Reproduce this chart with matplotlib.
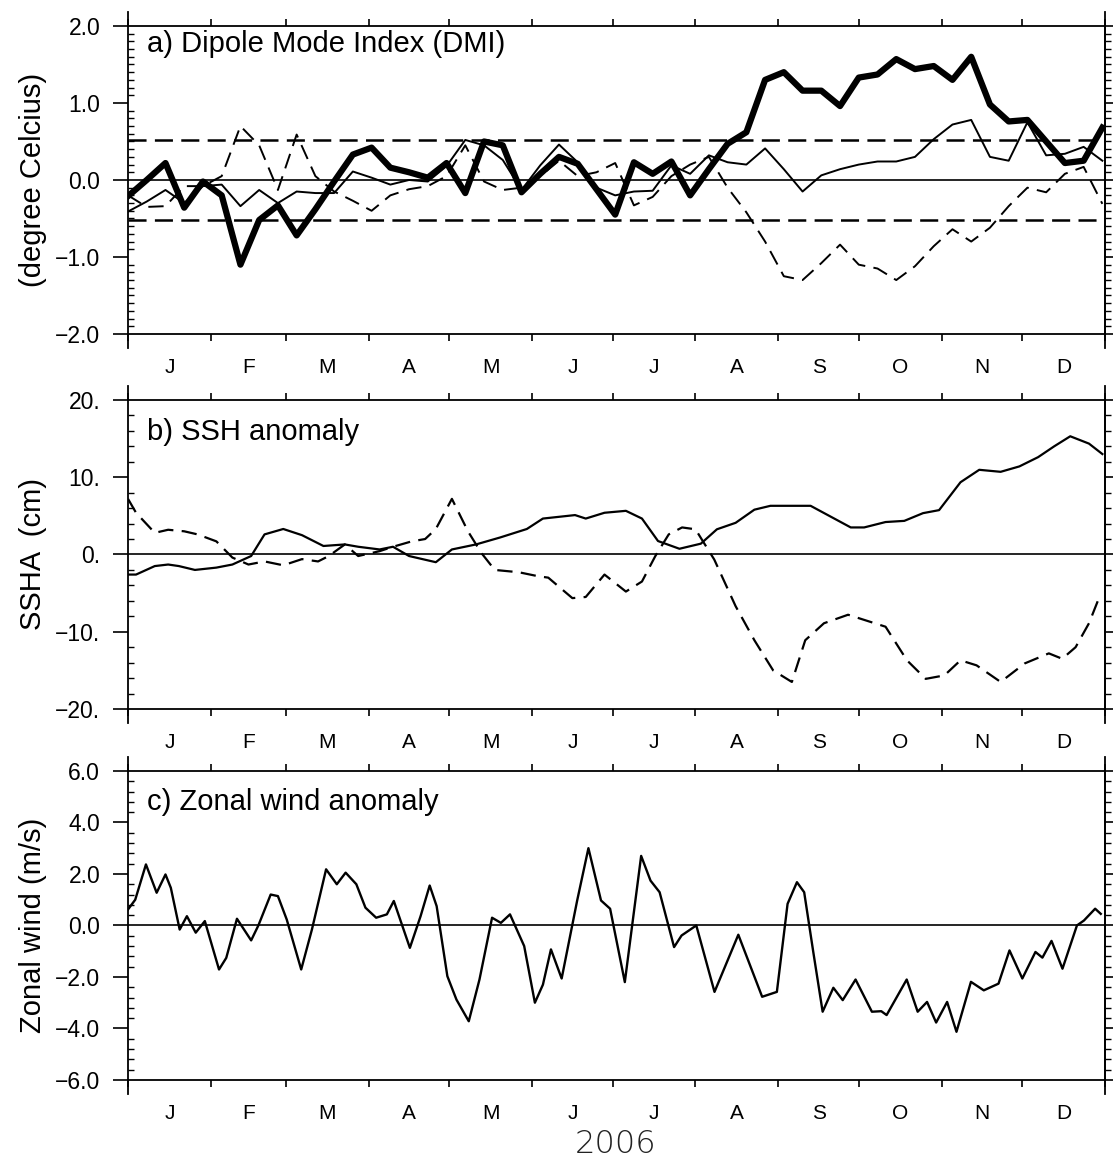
import matplotlib
matplotlib.use('Agg')
import matplotlib.pyplot as plt
import matplotlib.ticker as mticker
import numpy as np

plt.rcParams['font.family'] = ['Liberation Sans', 'DejaVu Sans']
plt.rcParams['lines.scale_dashes'] = False

# calendar of 2006 (day of year)
month_start = [0, 31, 59, 90, 120, 151, 181, 212, 243, 273, 304, 334, 365]
month_labels = ['J', 'F', 'M', 'A', 'M', 'J', 'J', 'A', 'S', 'O', 'N', 'D']

# a) Dipole Mode Index, weekly values
dmi_week = list(range(53))
dmi_thick = [-0.21, 0.0, 0.22, -0.36, -0.02, -0.2, -1.1, -0.52, -0.33, -0.72,
             -0.38, -0.02, 0.33, 0.42, 0.16, 0.1, 0.03, 0.22, -0.17, 0.5,
             0.45, -0.16, 0.08, 0.3, 0.21, -0.12, -0.45, 0.23, 0.08, 0.24,
             -0.2, 0.14, 0.47, 0.62, 1.3, 1.4, 1.16, 1.16, 0.96, 1.33,
             1.37, 1.57, 1.44, 1.48, 1.3, 1.6, 0.98, 0.76, 0.78, 0.5,
             0.22, 0.25, 0.68]
dmi_thin = [-0.41, -0.28, -0.13, -0.3, -0.08, -0.06, -0.34, -0.13, -0.3, -0.15,
            -0.17, -0.17, 0.11, 0.03, -0.06, 0.0, -0.02, 0.18, 0.52, 0.45,
            0.26, -0.13, 0.19, 0.46, 0.23, -0.1, -0.2, -0.15, -0.14, 0.19,
            0.08, 0.32, 0.23, 0.2, 0.41, 0.14, -0.15, 0.06, 0.14, 0.2,
            0.24, 0.24, 0.3, 0.53, 0.72, 0.78, 0.3, 0.25, 0.75, 0.32,
            0.34, 0.43, 0.25]
dmi_dash = [-0.2, -0.35, -0.34, -0.08, -0.08, 0.05, 0.7, 0.45, -0.13, 0.59,
            0.05, -0.15, -0.27, -0.4, -0.2, -0.12, -0.08, 0.05, 0.45, -0.02,
            -0.13, -0.1, 0.05, 0.25, 0.05, 0.1, 0.22, -0.33, -0.22, 0.05,
            0.2, 0.3, -0.1, -0.42, -0.8, -1.25, -1.3, -1.08, -0.84, -1.1,
            -1.15, -1.3, -1.12, -0.86, -0.64, -0.8, -0.62, -0.34, -0.1, -0.16,
            0.08, 0.17, -0.31]
dmi_threshold = 0.52

# b) SSH anomaly (cm)
ssh_solid_day = [0, 3, 10, 15, 19, 25, 33, 39, 46, 51, 58, 65, 73, 81, 86, 94,
                 99, 105, 115, 121, 130, 139, 149, 155, 167, 171, 178, 186, 192,
                 198, 206, 214, 220, 227, 234, 240, 255, 270, 275, 283, 290, 297,
                 303, 311, 318, 326, 333, 340, 346, 352, 359, 364]
ssh_solid = [-2.6, -2.6, -1.5, -1.3, -1.5, -2.0, -1.7, -1.3, -0.2, 2.6, 3.3, 2.5,
             1.1, 1.3, 1.0, 0.65, 1.0, -0.2, -1.0, 0.65, 1.3, 2.2, 3.3, 4.65,
             5.1, 4.65, 5.4, 5.65, 4.65, 1.74, 0.74, 1.4, 3.26, 4.1, 5.8, 6.3,
             6.3, 3.5, 3.5, 4.2, 4.35, 5.35, 5.74, 9.35, 10.96, 10.7, 11.4, 12.6,
             14.0, 15.3, 14.35, 13.0]
ssh_dash_day = [0, 3, 10, 15, 21, 26, 33, 39, 45, 51, 58, 65, 71, 75, 81, 86, 94,
                99, 106, 111, 115, 121, 127, 132, 137, 146, 153, 157, 166, 171,
                178, 186, 192, 197, 202, 207, 212, 219, 227, 234, 241, 248, 253,
                260, 269, 283, 291, 298, 305, 311, 317, 326, 335, 344, 349, 354,
                359, 363]
ssh_dash = [7.2, 5.4, 2.8, 3.2, 3.0, 2.6, 1.7, -0.4, -1.3, -0.9, -1.4, -0.6, -0.9,
            -0.2, 1.3, -0.2, 0.43, 1.0, 1.7, 2.0, 3.3, 7.2, 3.0, 0.2, -2.0, -2.3,
            -2.8, -3.0, -5.65, -5.5, -2.6, -4.8, -3.5, -0.2, 2.6, 3.5, 3.26, -0.65,
            -6.7, -11.1, -15.0, -16.5, -11.1, -8.9, -7.8, -9.35, -13.7, -16.1,
            -15.65, -13.7, -14.35, -16.5, -14.1, -12.8, -13.5, -12.0, -8.9, -5.4]

# c) Zonal wind anomaly (m/s)
wind_day = [0, 2.7, 6.7, 10.7, 14, 16, 19.3, 22, 25.3, 28.7, 34, 36.7, 40.7, 46,
            48.7, 53.3, 56, 59.3, 64.7, 68.7, 74, 78, 81.3, 85.3, 88.7, 92.7,
            96.7, 99.3, 105.3, 109.3, 112.7, 115.3, 119.3, 122.7, 127.3, 131.3,
            136, 139.3, 142.7, 148, 152, 155, 158, 162, 167.8, 172, 176.7, 180.1,
            185.6, 191.7, 195.2, 198.6, 204, 206.8, 212.3, 219.1, 228, 236.9,
            242.4, 246.4, 249.9, 252.6, 256, 259.5, 263.5, 267, 271.8, 277.9,
            281.4, 283.4, 290.9, 295, 298.5, 301.9, 306, 309.5, 314.9, 319.7,
            325.2, 329.3, 334.1, 339, 341.6, 345, 349.1, 354.5, 357.1, 361.3, 363.4]
wind = [0.62, 1.0, 2.37, 1.27, 1.98, 1.46, -0.16, 0.36, -0.28, 0.17, -1.71, -1.26,
        0.26, -0.58, 0.0, 1.2, 1.14, 0.23, -1.71, -0.16, 2.18, 1.6, 2.05, 1.6,
        0.69, 0.3, 0.43, 0.95, -0.87, 0.36, 1.55, 0.75, -1.97, -2.88, -3.72, -2.1,
        0.3, 0.1, 0.43, -0.8, -3.0, -2.3, -0.93, -2.06, 0.97, 3.0, 0.97, 0.65,
        -2.2, 2.7, 1.74, 1.29, -0.84, -0.39, 0.0, -2.58, -0.36, -2.77, -2.58, 0.84,
        1.68, 1.29, -1.03, -3.35, -2.42, -2.9, -2.1, -3.35, -3.33, -3.48, -2.1,
        -3.35, -2.97, -3.77, -2.97, -4.13, -2.19, -2.52, -2.26, -0.97, -2.06,
        -1.03, -1.25, -0.6, -1.68, 0.0, 0.19, 0.65, 0.45]


def num_fmt(digits, trailing_dot=False):
    def f(v, _):
        if abs(v) < 1e-9:
            v = 0.0
        s = f"{v:.{digits}f}" + ('.' if trailing_dot else '')
        return s.replace('-', '\u2212')
    return mticker.FuncFormatter(f)


def style(ax, ylim, major, minor, fmt, ylabel, title, title_y):
    ax.set_xlim(0, 365)
    ax.set_ylim(*ylim)
    ax.axhline(0, color='black', lw=1.2, zorder=1)
    mid = [(a + b) / 2 for a, b in zip(month_start[:-1], month_start[1:])]
    ax.set_xticks(month_start, labels=[])
    ax.set_xticks(mid, labels=month_labels, minor=True)
    ax.tick_params(axis='x', which='major', direction='out', top=True,
                   length=5, width=1.2)
    ax.tick_params(axis='x', which='minor', length=0, pad=17, labelsize=15)
    ax.yaxis.set_major_locator(mticker.MultipleLocator(major))
    ax.yaxis.set_minor_locator(mticker.MultipleLocator(minor))
    ax.yaxis.set_major_formatter(fmt)
    ax.tick_params(axis='y', which='major', direction='out', length=11,
                   width=1.2, labelsize=16.5, pad=9)
    ax.tick_params(axis='y', which='minor', direction='in', length=4, width=1.0)
    sec = ax.secondary_yaxis('right')
    sec.yaxis.set_major_locator(mticker.MultipleLocator(major))
    sec.yaxis.set_minor_locator(mticker.MultipleLocator(minor))
    sec.tick_params(axis='y', which='major', direction='out', length=6,
                    width=1.2, labelright=False)
    sec.tick_params(axis='y', which='minor', direction='out', length=4.5,
                    width=1.0)
    sec.spines['right'].set_linewidth(1.3)
    ext = 0.045 * (ylim[1] - ylim[0])
    for side in ['left', 'right']:
        ax.spines[side].set_bounds(ylim[0] - ext, ylim[1] + ext)
    for sp in ax.spines.values():
        sp.set_linewidth(1.3)
    ax.set_ylabel(ylabel, fontsize=21)
    ax.yaxis.label.set(ha='center', va='center')
    ax.yaxis.set_label_coords(-0.097, 0.5)
    ax.text(0.019, title_y, title, transform=ax.transAxes, fontsize=21,
            ha='left', va='center')


fig = plt.figure(figsize=(11.17, 11.6), dpi=100)
left, width = 0.1146, 0.8747
ax_a = fig.add_axes([left, 0.7121, width, 0.2655])
ax_b = fig.add_axes([left, 0.3888, width, 0.2664])
ax_c = fig.add_axes([left, 0.0690, width, 0.2664])

# a) DMI
dmi_day = np.array(dmi_week) * 7
ax_a.axhline(dmi_threshold, color='black', lw=1.8, ls=(0, (13, 6)))
ax_a.axhline(-dmi_threshold, color='black', lw=1.8, ls=(0, (13, 6)))
ax_a.plot(dmi_day, dmi_dash, color='black', lw=1.4, ls=(0, (11, 6)))
ax_a.plot(dmi_day, dmi_thin, color='black', lw=1.4)
ax_a.plot(dmi_day, dmi_thick, color='black', lw=4.5, solid_joinstyle='round')
style(ax_a, (-2, 2), 1.0, 0.1, num_fmt(1), '(degree Celcius)',
      'a) Dipole Mode Index (DMI)', 0.94)

# b) SSHA
ax_b.plot(ssh_solid_day, ssh_solid, color='black', lw=1.6)
ax_b.plot(ssh_dash_day, ssh_dash, color='black', lw=1.6, ls=(0, (11, 6)))
style(ax_b, (-20, 20), 10, 2, num_fmt(0, True), 'SSHA  (cm)',
      'b) SSH anomaly', 0.897)

# c) Zonal wind
ax_c.plot(wind_day, wind, color='black', lw=1.7, solid_joinstyle='round')
style(ax_c, (-6, 6), 2.0, 0.4, num_fmt(1), 'Zonal wind (m/s)',
      'c) Zonal wind anomaly', 0.9)

fig.text(0.5515, 0.0138, '2006', fontsize=23, ha='center', va='center',
         family='DejaVu Sans', fontweight='light', color='#222222')

fig.savefig('out.png', dpi=100)
